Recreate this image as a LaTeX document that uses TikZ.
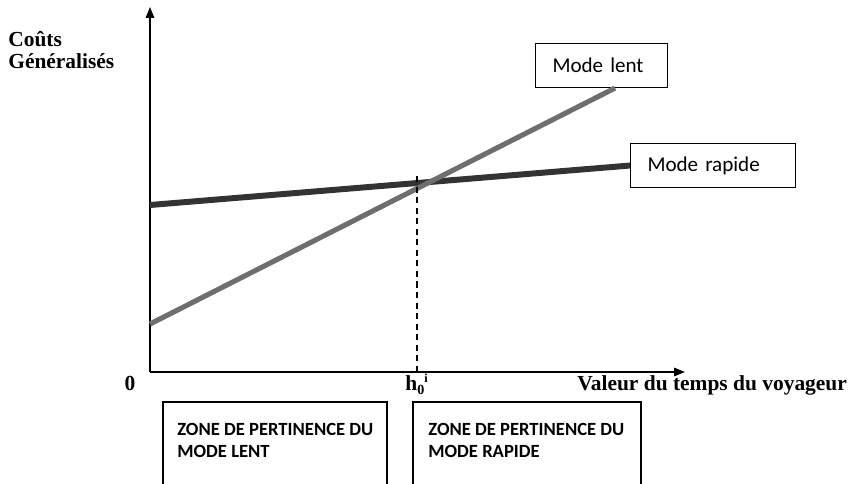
\documentclass[tikz,border=0pt]{standalone}
\usepackage{fontspec}
\setmainfont{Liberation Serif}
\newfontfamily\calibri{Carlito}
\usetikzlibrary{arrows.meta}

\begin{document}
\begin{tikzpicture}[x=0.02cm,y=-0.02cm,
    axis/.style={line width=0.9pt,-{Triangle[length=0.22cm,width=0.17cm]}},
    modebox/.style={draw,line width=0.6pt,anchor=north west,align=left,
      font=\calibri\fontsize{12}{14}\selectfont,
      inner xsep=0.34cm,inner ysep=0pt,minimum height=0.88cm},
    zonetext/.style={anchor=base west,align=left,inner sep=0pt,
      font=\calibri\bfseries\fontsize{10.6}{12.5}\selectfont},
    lbl/.style={inner sep=0pt,font=\bfseries\fontsize{12.2}{13}\selectfont}]
  \useasboundingbox (0,0) rectangle (851,483);
  % axes
  \coordinate (O) at (150,372);
  \coordinate (ytip) at (150,7);
  \coordinate (xtip) at (685,372);
  \draw[axis] (O) -- (ytip);
  \draw[axis] (O) -- (xtip);
  \node[lbl,anchor=base west,align=left] (ylab) at (8,69) {Coûts\\Généralisés};
  \node[lbl,anchor=base west] (xlab) at (577,390) {Valeur du temps du voyageur};
  \node[lbl,anchor=base] (zero) at (130,390) {0};
  \node[lbl,anchor=base west] (h0) at (405,390)
    {h\raisebox{-2.5pt}{\footnotesize 0}\raisebox{4pt}{\scriptsize i}};
  % boxes of the modes
  \node[modebox,text width=1.96cm] (lent) at (535,43) {Mode lent};
  \node[modebox,text width=2.62cm] (rapide) at (630,143) {Mode rapide};
  % cost lines
  \coordinate (lent0) at (150,324);
  \coordinate (rapide0) at (150,205);
  \draw[line width=3.4pt,black!80] (rapide0) -- (rapide.west);
  \draw[line width=2.9pt,black!57] (lent0) -- ([xshift=-1.06cm]lent.south east);
  % threshold
  \coordinate (cross) at (417,176);
  \draw[line width=0.7pt,dash pattern=on 3.5pt off 2.5pt] (cross) -- (cross |- O);
  % zones
  \draw[line width=0.6pt] (163,490) -- (163,402) -- (387,402) -- (387,490);
  \draw[line width=0.6pt] (413,490) -- (413,402) -- (641,402) -- (641,490);
  \node[zonetext] (zlent) at (177,457) {ZONE DE PERTINENCE DU\\MODE LENT};
  \node[zonetext] (zrapide) at (428,457) {ZONE DE PERTINENCE DU\\MODE RAPIDE};
\end{tikzpicture}
\end{document}
